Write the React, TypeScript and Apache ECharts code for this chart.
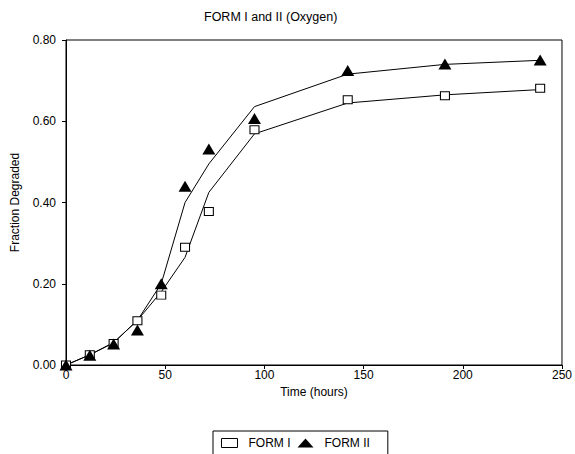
import React, { useEffect, useRef } from "react";
import * as echarts from "echarts";

// Measured points (time in hours, fraction degraded)
const form1Times = [0, 12, 24, 36, 48, 60, 72, 95, 142, 191, 239];
const form1Values = [0.0, 0.025, 0.053, 0.109, 0.172, 0.29, 0.378, 0.579, 0.653, 0.663, 0.681];
const form2Times = [0, 12, 24, 36, 48, 60, 72, 95, 142, 191, 239];
const form2Values = [0.0, 0.024, 0.052, 0.086, 0.2, 0.44, 0.532, 0.607, 0.725, 0.741, 0.751];

// Fitted curves
const fit1Times = [0, 12, 24, 36, 48, 60, 72, 95, 142, 191, 239];
const fit1Values = [0.0, 0.025, 0.055, 0.11, 0.18, 0.265, 0.425, 0.569, 0.645, 0.665, 0.678];
const fit2Times = [0, 12, 24, 36, 48, 60, 72, 95, 142, 191, 239];
const fit2Values = [0.0, 0.025, 0.055, 0.11, 0.2, 0.4, 0.495, 0.636, 0.716, 0.74, 0.75];

const yTicks = [0, 0.2, 0.4, 0.6, 0.8];
const xTicks = [0, 50, 100, 150, 200, 250];

const FONT = "Liberation Sans";

function pairs(xs: number[], ys: number[]) {
  return xs.map((x, i) => [x, ys[i]]);
}

export default function App() {
  const ref = useRef<HTMLDivElement>(null);
  useEffect(() => {
    if (!ref.current) return;
    const chart = echarts.init(ref.current, undefined, { renderer: "svg" });
    chart.setOption({
      animation: false,
      backgroundColor: "#fff",
      title: {
        text: "FORM I and II (Oxygen)",
        left: 199,
        top: 5,
        textStyle: { fontFamily: FONT, fontSize: 12.5, fontWeight: "normal", color: "#000" },
      },
      legend: {
        data: [
          { name: "FORM I", icon: "rect", itemStyle: { color: "#fff", borderColor: "#000", borderWidth: 1 } },
          { name: "FORM II", icon: "triangle", itemStyle: { color: "#000" } },
        ],
        left: 213,
        top: 431,
        padding: [6, 18, 6, 8],
        itemWidth: 16,
        itemHeight: 9,
        itemGap: 7,
        borderColor: "#000",
        borderWidth: 1,
        textStyle: { fontFamily: FONT, fontSize: 12, color: "#000", padding: [0, 0, 0, 6] },
      },
      grid: {
        left: 66,
        right: 12,
        top: 40,
        bottom: 89,
        show: true,
        borderColor: "#000",
        borderWidth: 1,
      },
      xAxis: {
        type: "value",
        min: xTicks[0],
        max: xTicks[xTicks.length - 1],
        interval: 50,
        name: "Time (hours)",
        nameLocation: "middle",
        nameGap: 21,
        nameTextStyle: { fontFamily: FONT, fontSize: 12, color: "#000" },
        axisLine: { lineStyle: { color: "#000", width: 1 } },
        axisTick: { length: 4, lineStyle: { color: "#000" } },
        axisLabel: { fontFamily: FONT, fontSize: 12, color: "#000", margin: 4 },
        splitLine: { show: false },
      },
      yAxis: {
        type: "value",
        min: yTicks[0],
        max: yTicks[yTicks.length - 1],
        interval: 0.2,
        name: "Fraction Degraded",
        nameLocation: "middle",
        nameGap: 45,
        nameTextStyle: { fontFamily: FONT, fontSize: 12, color: "#000" },
        axisLine: { lineStyle: { color: "#000", width: 1 } },
        axisTick: { length: 4, lineStyle: { color: "#000" } },
        axisLabel: {
          fontFamily: FONT,
          fontSize: 12,
          color: "#000",
          margin: 10,
          formatter: (v: number) => v.toFixed(2),
        },
        splitLine: { show: false },
      },
      series: [
        {
          name: "FORM I fit",
          type: "line",
          data: pairs(fit1Times, fit1Values),
          showSymbol: false,
          symbol: "none",
          lineStyle: { color: "#000", width: 1 },
          z: 2,
          silent: true,
        },
        {
          name: "FORM II fit",
          type: "line",
          data: pairs(fit2Times, fit2Values),
          showSymbol: false,
          symbol: "none",
          lineStyle: { color: "#000", width: 1 },
          z: 2,
          silent: true,
        },
        {
          name: "FORM I",
          type: "scatter",
          data: pairs(form1Times, form1Values),
          symbol: "rect",
          symbolSize: [9, 8],
          itemStyle: { color: "#fff", borderColor: "#000", borderWidth: 1, opacity: 1 },
          z: 3,
        },
        {
          name: "FORM II",
          type: "scatter",
          data: pairs(form2Times, form2Values),
          symbol: "triangle",
          symbolSize: [13, 11],
          itemStyle: { color: "#000", opacity: 1 },
          z: 4,
        },
      ],
    });
    return () => chart.dispose();
  }, []);
  return (
    <div
      ref={ref}
      style={{ position: "absolute", left: 0, top: 0, width: 575, height: 454, overflow: "hidden" }}
    />
  );
}
